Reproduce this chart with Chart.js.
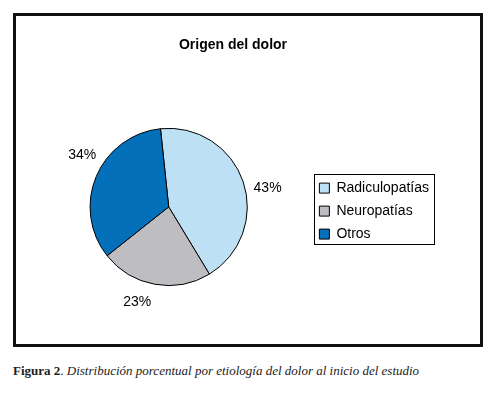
<!DOCTYPE html>
<html>
<head>
<meta charset="utf-8">
<script src="https://cdn.jsdelivr.net/npm/chart.js@4/dist/chart.umd.min.js"></script>
<style>
  body { margin: 0; background: #fff; width: 494px; height: 395px; position: relative; }
  #frame { position: absolute; left: 13px; top: 13px; width: 464px; height: 328px; border: 3px solid #111; }
  #wrap { position: relative; width: 464px; height: 328px; }
  #caption { position: absolute; left: 13px; top: 363px; font-family: "Liberation Serif", "Times New Roman", serif;
             font-size: 13px; color: #222; white-space: nowrap; }
</style>
</head>
<body>
<div id="frame"><div id="wrap"><canvas id="pie-chart"></canvas></div></div>
<div id="caption"><b>Figura 2</b>. <i>Distribución porcentual por etiología del dolor al inicio del estudio</i></div>
<script>
// datos
const categories = ['Radiculopatías', 'Neuropatías', 'Otros'];
const percentages = [43, 23, 34];
const sliceColors = ['rgb(190, 224, 245)', 'rgb(190, 190, 194)', 'rgb(5, 112, 186)'];

Chart.defaults.font.family = '"Liberation Sans", Arial, sans-serif';
Chart.defaults.color = '#000';

// etiquetas de porcentaje fuera del pastel
const pctLabels = {
  id: 'pctLabels',
  afterDatasetsDraw(chart) {
    const ctx = chart.ctx;
    const meta = chart.getDatasetMeta(0);
    ctx.save();
    ctx.font = '14px "Liberation Sans", Arial, sans-serif';
    ctx.fillStyle = '#000';
    ctx.textAlign = 'center';
    ctx.textBaseline = 'middle';
    meta.data.forEach((arc, i) => {
      const p = arc.getProps(['x', 'y', 'startAngle', 'endAngle', 'outerRadius'], true);
      const mid = (p.startAngle + p.endAngle) / 2 + 8 * Math.PI / 180;
      const r = p.outerRadius + 22;
      ctx.fillText(percentages[i] + '%', p.x + Math.cos(mid) * r, p.y + Math.sin(mid) * r);
    });
    ctx.restore();
  }
};

// recuadro de la leyenda
const legendFrame = {
  id: 'legendFrame',
  afterDraw(chart) {
    const boxes = chart.legend.legendHitBoxes;
    if (!boxes || !boxes.length) return;
    const first = boxes[0], last = boxes[boxes.length - 1];
    const left = Math.round(first.left - 5) + 0.5;
    const top = Math.round(first.top + first.height / 2 - 14) + 0.5;
    const bottom = Math.round(last.top + last.height / 2 + 10) + 0.5;
    const ctx = chart.ctx;
    ctx.save();
    ctx.strokeStyle = '#000';
    ctx.lineWidth = 1;
    ctx.strokeRect(left, top, 120, bottom - top);
    ctx.restore();
  }
};

var ctx = document.getElementById('pie-chart');
new Chart(ctx, {
  type: 'pie',
  data: {
    labels: categories,
    datasets: [{
      data: percentages,
      backgroundColor: sliceColors,
      borderColor: '#000',
      borderWidth: 1
    }]
  },
  options: {
    responsive: true,
    maintainAspectRatio: false,
    animation: false,
    rotation: -6,
    layout: { padding: { left: 11, right: 41, top: 0, bottom: 58 } },
    plugins: {
      title: {
        display: true,
        text: 'Origen del dolor',
        font: { size: 14, weight: 'bold' },
        padding: { top: 21, bottom: 74 }
      },
      legend: {
        position: 'right',
        fullSize: false,
        title: { display: true, text: '', font: { size: 7 }, padding: 0 },
        labels: { boxWidth: 10, boxHeight: 10, padding: 9, font: { size: 14 } }
      },
      tooltip: { enabled: false }
    }
  },
  plugins: [pctLabels, legendFrame]
});
</script>
</body>
</html>
